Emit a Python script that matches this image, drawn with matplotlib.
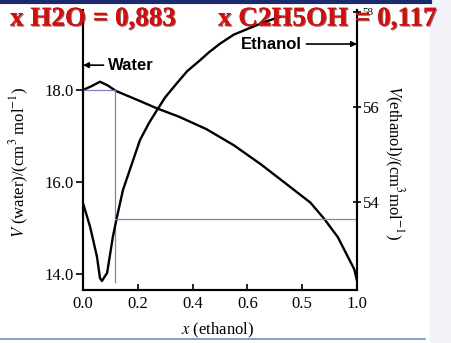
import matplotlib
matplotlib.use("Agg")
import matplotlib.pyplot as plt
from matplotlib.lines import Line2D
from matplotlib.patches import Rectangle
import matplotlib.patheffects as pe

plt.rcParams["font.family"] = ["Liberation Serif", "DejaVu Serif"]
plt.rcParams["mathtext.fontset"] = "stix"

# partial molar volume of water (left axis)
x_water = [0.0, 0.03, 0.062, 0.09, 0.12, 0.2, 0.27, 0.35, 0.45, 0.55, 0.65,
           0.75, 0.83, 0.88, 0.93, 0.96, 0.99, 1.0]
v_water = [18.0, 18.08, 18.18, 18.1, 17.98, 17.78, 17.6, 17.42, 17.15, 16.8, 16.38,
           15.92, 15.55, 15.2, 14.8, 14.45, 14.1, 13.85]

# partial molar volume of ethanol (right axis)
x_eth = [0.0, 0.026, 0.051, 0.062, 0.069, 0.088, 0.109, 0.124, 0.146, 0.179,
         0.208, 0.24, 0.27, 0.30, 0.343, 0.38, 0.427, 0.46, 0.5, 0.55, 0.6, 0.66, 0.72]
v_eth = [53.97, 53.47, 52.84, 52.39, 52.33, 52.5, 53.26, 53.68, 54.25, 54.81,
         55.3, 55.65, 55.93, 56.2, 56.5, 56.75, 56.98, 57.15, 57.33, 57.52, 57.64, 57.78, 57.9]

x_mark = 0.117
water_at_mark = 18.0
eth_at_mark = 53.64

xticks = [0.0, 0.2, 0.4, 0.6, 0.8, 1.0]
xticklabels = ["0.0", "0.2", "0.4", "0.6", "0.5", "1.0"]
left_ticks = [14.0, 16.0, 18.0]
left_labels = ["14.0", "16.0", "18.0"]
right_ticks = [54, 56, 58]

fig = plt.figure(figsize=(4.51, 3.43), dpi=100)
ax = fig.add_axes([83 / 451, 1 - 290 / 343, 274 / 451, 280 / 343])
ax2 = ax.twinx()

ax.set_xlim(0, 1)
ax.set_ylim(13.65, 19.74)
ax2.set_ylim(52.14, 58.04)

ax.plot(x_water, v_water, color="black", lw=1.7, solid_capstyle="round")
ax2.plot(x_eth, v_eth, color="black", lw=1.7, solid_capstyle="round")

# blue guide lines at x(ethanol) = 0.117
blue = "#8080c0"
ax.plot([0, x_mark], [water_at_mark, water_at_mark], color=blue, lw=0.9)
ax.plot([x_mark, x_mark], [water_at_mark, 13.83], color=blue, lw=0.9)
ax2.plot([x_mark, 1.0], [eth_at_mark, eth_at_mark], color=blue, lw=0.9)

for a in (ax, ax2):
    a.spines["top"].set_visible(False)
    for s in a.spines.values():
        s.set_linewidth(1.5)

ax.set_xticks(xticks)
ax.set_xticklabels(xticklabels)
ax.set_yticks(left_ticks)
ax.set_yticklabels(left_labels)
ax2.set_yticks(right_ticks)
ax.tick_params(axis="x", direction="in", length=4, width=1.2, labelsize=12, pad=4)
ax.tick_params(axis="y", direction="out", length=5, width=1.2, labelsize=12, pad=2)
ax2.tick_params(axis="y", direction="inout", length=6, width=1.2, labelsize=12, pad=1)
ax2.get_yticklabels()[-1].set_fontsize(8)

ax.set_xlabel("$x$ (ethanol)", fontsize=12)
ax.xaxis.set_label_coords(0.49, -0.11)
ax.set_ylabel("$V$ (water)/(cm$^3$ mol$^{-1}$)", fontsize=12)
ax.yaxis.set_label_coords(-0.19, 0.457)
ax2.set_ylabel("$V$(ethanol)/(cm$^3$mol$^{-1}$)", fontsize=12, rotation=-90, va="center")
ax2.yaxis.set_label_coords(1.135, 0.454)

ax.annotate("Water", xy=(0.0, 18.54), xytext=(0.09, 18.54), ha="left", va="center",
            fontsize=12, fontweight="bold", family=["Liberation Sans", "DejaVu Sans"],
            arrowprops=dict(arrowstyle="-|>", color="black", lw=1.2, shrinkA=1, shrinkB=0,
                            mutation_scale=8))
ax.annotate("Ethanol", xy=(1.0, 19.0), xytext=(0.80, 19.0), ha="right", va="center",
            fontsize=12, fontweight="bold", family=["Liberation Sans", "DejaVu Sans"],
            arrowprops=dict(arrowstyle="-|>", color="black", lw=1.2, shrinkA=1, shrinkB=0,
                            mutation_scale=8))

# red overlay text
shadow = [pe.withSimplePatchShadow(offset=(0.8, -0.8), shadow_rgbFace="#6a0000", alpha=0.6), pe.Normal()]
fig.text(10 / 451, 1 - 19 / 343, "x H2O = 0,883", color="#cc1010", fontsize=19.5,
         fontweight="bold", va="center", ha="left", path_effects=shadow, zorder=10)
fig.text(218 / 451, 1 - 19 / 343, "x C2H5OH = 0,117", color="#cc1010", fontsize=19.5,
         fontweight="bold", va="center", ha="left", path_effects=shadow, zorder=10)

# slide decorations
fig.add_artist(Rectangle((430 / 451, 0), 21 / 451, 1, transform=fig.transFigure,
                         color="#f1f3f9", zorder=-1))
fig.add_artist(Line2D([0, 430 / 451], [1 - 1.5 / 343] * 2, transform=fig.transFigure,
                      color="#1c2b6e", lw=3))
fig.add_artist(Line2D([0, 425 / 451], [1 - 339 / 343] * 2, transform=fig.transFigure,
                      color="#6f8fc8", lw=1.2))

fig.savefig("out.png", dpi=100)
